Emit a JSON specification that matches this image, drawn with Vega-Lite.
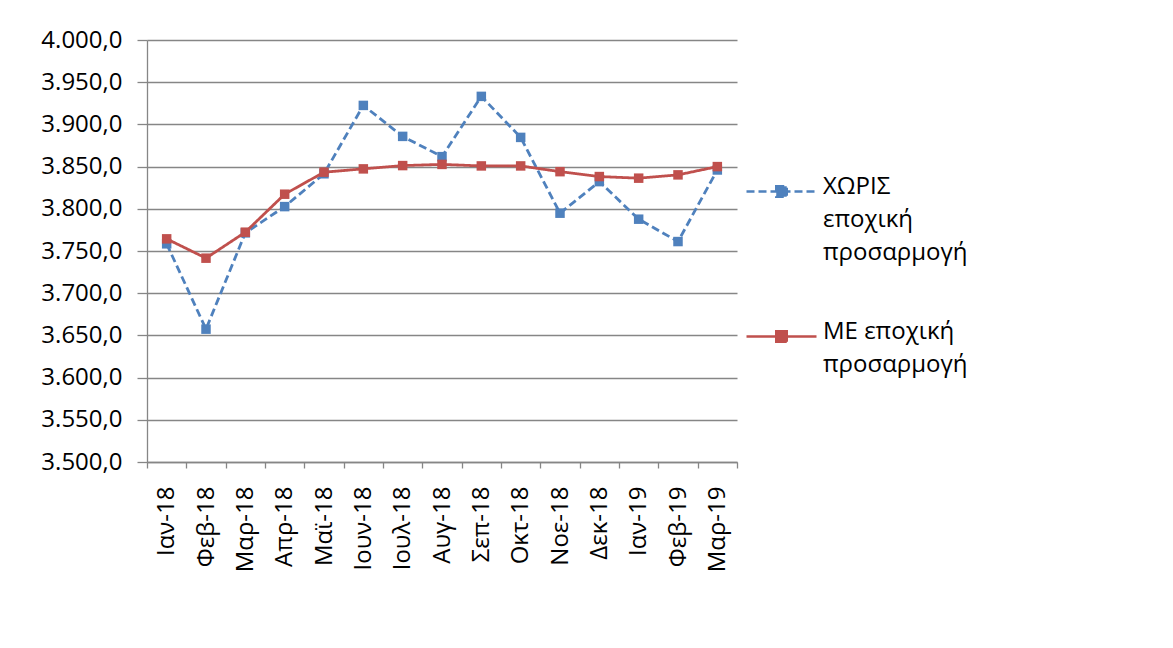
{
  "$schema": "https://vega.github.io/schema/vega-lite/v6.json",
  "autosize": {"type": "none"},
  "width": 590,
  "height": 422,
  "padding": {"left": 147, "top": 40, "right": 436, "bottom": 186},
  "config": {
    "font": "Open Sans",
    "view": {"stroke": null},
    "locale": {"number": {"decimal": ",", "thousands": ".", "grouping": [3], "currency": ["", " €"]}}
  },
  "data": {
    "values": [
      {"month": "Ιαν-18", "series": "ΧΩΡΙΣ εποχική προσαρμογή", "value": 3758.5},
      {"month": "Φεβ-18", "series": "ΧΩΡΙΣ εποχική προσαρμογή", "value": 3657.4},
      {"month": "Μαρ-18", "series": "ΧΩΡΙΣ εποχική προσαρμογή", "value": 3771.5},
      {"month": "Απρ-18", "series": "ΧΩΡΙΣ εποχική προσαρμογή", "value": 3802.6},
      {"month": "Μαϊ-18", "series": "ΧΩΡΙΣ εποχική προσαρμογή", "value": 3841.5},
      {"month": "Ιουν-18", "series": "ΧΩΡΙΣ εποχική προσαρμογή", "value": 3922.5},
      {"month": "Ιουλ-18", "series": "ΧΩΡΙΣ εποχική προσαρμογή", "value": 3885.8},
      {"month": "Αυγ-18", "series": "ΧΩΡΙΣ εποχική προσαρμογή", "value": 3861.8},
      {"month": "Σεπ-18", "series": "ΧΩΡΙΣ εποχική προσαρμογή", "value": 3933.2},
      {"month": "Οκτ-18", "series": "ΧΩΡΙΣ εποχική προσαρμογή", "value": 3884.6},
      {"month": "Νοε-18", "series": "ΧΩΡΙΣ εποχική προσαρμογή", "value": 3794.8},
      {"month": "Δεκ-18", "series": "ΧΩΡΙΣ εποχική προσαρμογή", "value": 3832.2},
      {"month": "Ιαν-19", "series": "ΧΩΡΙΣ εποχική προσαρμογή", "value": 3787.7},
      {"month": "Φεβ-19", "series": "ΧΩΡΙΣ εποχική προσαρμογή", "value": 3761.2},
      {"month": "Μαρ-19", "series": "ΧΩΡΙΣ εποχική προσαρμογή", "value": 3846.0},
      {"month": "Ιαν-18", "series": "ΜΕ εποχική προσαρμογή", "value": 3764.4},
      {"month": "Φεβ-18", "series": "ΜΕ εποχική προσαρμογή", "value": 3741.5},
      {"month": "Μαρ-18", "series": "ΜΕ εποχική προσαρμογή", "value": 3772.3},
      {"month": "Απρ-18", "series": "ΜΕ εποχική προσαρμογή", "value": 3817.3},
      {"month": "Μαϊ-18", "series": "ΜΕ εποχική προσαρμογή", "value": 3843.4},
      {"month": "Ιουν-18", "series": "ΜΕ εποχική προσαρμογή", "value": 3847.3},
      {"month": "Ιουλ-18", "series": "ΜΕ εποχική προσαρμογή", "value": 3851.2},
      {"month": "Αυγ-18", "series": "ΜΕ εποχική προσαρμογή", "value": 3852.6},
      {"month": "Σεπ-18", "series": "ΜΕ εποχική προσαρμογή", "value": 3850.8},
      {"month": "Οκτ-18", "series": "ΜΕ εποχική προσαρμογή", "value": 3850.8},
      {"month": "Νοε-18", "series": "ΜΕ εποχική προσαρμογή", "value": 3844.0},
      {"month": "Δεκ-18", "series": "ΜΕ εποχική προσαρμογή", "value": 3838.2},
      {"month": "Ιαν-19", "series": "ΜΕ εποχική προσαρμογή", "value": 3836.3},
      {"month": "Φεβ-19", "series": "ΜΕ εποχική προσαρμογή", "value": 3840.2},
      {"month": "Μαρ-19", "series": "ΜΕ εποχική προσαρμογή", "value": 3850.0}
    ]
  },
  "encoding": {
    "x": {
      "field": "month",
      "type": "ordinal",
      "sort": null,
      "scale": {"type": "band", "paddingInner": 0, "paddingOuter": 0},
      "axis": {
        "title": null,
        "labelAngle": -90,
        "labelFontSize": 24,
        "labelColor": "#000000",
        "labelPadding": 18,
        "tickBand": "extent",
        "tickSize": 6,
        "tickColor": "#868686",
        "tickWidth": 1.3,
        "domainColor": "#868686",
        "domainWidth": 1.3,
        "grid": false
      }
    },
    "y": {
      "field": "value",
      "type": "quantitative",
      "scale": {"domain": [3500, 4000], "nice": false, "zero": false},
      "axis": {
        "title": null,
        "values": [3500, 3550, 3600, 3650, 3700, 3750, 3800, 3850, 3900, 3950, 4000],
        "format": ",.1f",
        "labelFontSize": 24,
        "labelColor": "#000000",
        "labelPadding": 15,
        "tickSize": 10,
        "tickColor": "#868686",
        "tickWidth": 1.3,
        "domainColor": "#868686",
        "domainWidth": 1.3,
        "grid": true,
        "gridColor": "#868686",
        "gridWidth": 1.3
      }
    },
    "color": {
      "field": "series",
      "type": "nominal",
      "scale": {
        "domain": ["ΧΩΡΙΣ εποχική προσαρμογή", "ΜΕ εποχική προσαρμογή"],
        "range": ["#4F81BD", "#C0504D"]
      },
      "legend": {
        "title": null,
        "orient": "none",
        "legendX": 598,
        "legendY": 115,
        "symbolType": "M-1,0H1M-0.15,-0.15H0.15V0.15H-0.15Z",
        "symbolSize": 4900,
        "symbolStrokeWidth": 2.5,
        "labelFontSize": 24,
        "labelColor": "#000000",
        "labelLimit": 400,
        "labelOffset": 5,
        "labelBaseline": "top",
        "rowPadding": 35,
        "labelExpr": "datum.label == 'ΜΕ εποχική προσαρμογή' ? ['ΜΕ εποχική', 'προσαρμογή'] : ['ΧΩΡΙΣ', 'εποχική', 'προσαρμογή']",
        "encode": {
          "labels": {"update": {"dy": {"value": -17}, "lineHeight": {"value": 33}}},
          "symbols": {"update": {"fill": {"scale": "color", "field": "value"}}}
        }
      }
    },
    "strokeDash": {
      "field": "series",
      "type": "nominal",
      "scale": {
        "domain": ["ΧΩΡΙΣ εποχική προσαρμογή", "ΜΕ εποχική προσαρμογή"],
        "range": [[8, 4], [1, 0]]
      },
      "legend": null
    }
  },
  "layer": [
    {
      "transform": [{"filter": "datum.series == 'ΧΩΡΙΣ εποχική προσαρμογή'"}],
      "mark": {"type": "line", "strokeWidth": 2.8, "point": {"shape": "square", "size": 90, "filled": true}}
    },
    {
      "transform": [{"filter": "datum.series == 'ΜΕ εποχική προσαρμογή'"}],
      "mark": {"type": "line", "strokeWidth": 2.8, "point": {"shape": "square", "size": 90, "filled": true}}
    }
  ]
}
